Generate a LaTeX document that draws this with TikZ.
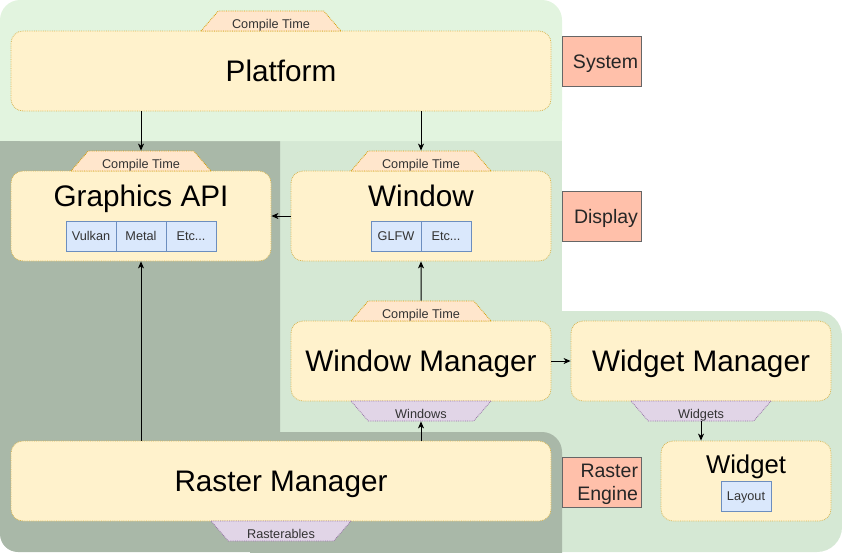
\documentclass[tikz,border=0pt]{standalone}
\usepackage{fontspec}
\setmainfont{Liberation Sans}
\usetikzlibrary{positioning,shapes.geometric,arrows.meta}

\definecolor{sysfill}{HTML}{E2F4DF}
\definecolor{dispfill}{HTML}{D5E8D4}
\definecolor{rastfill}{HTML}{A9B8A8}
\definecolor{boxfill}{HTML}{FFF2CC}
\definecolor{boxline}{HTML}{D6B656}
\definecolor{ctfill}{HTML}{FFE6CC}
\definecolor{ctline}{HTML}{D79B00}
\definecolor{purpfill}{HTML}{E1D5E7}
\definecolor{purpline}{HTML}{9673A6}
\definecolor{libfill}{HTML}{DAE8FC}
\definecolor{libline}{HTML}{6C8EBF}
\definecolor{tagfill}{HTML}{FFC0AA}
\definecolor{tagline}{HTML}{666666}

\newcommand{\fsTitle}{\fontsize{29.7}{35}\selectfont}
\newcommand{\fsWidget}{\fontsize{25.7}{30}\selectfont}
\newcommand{\fsTab}{\fontsize{12.7}{15}\selectfont}
\newcommand{\fsTag}{\fontsize{19.5}{23}\selectfont}

\tikzset{
	component/.style={draw=boxline, fill=boxfill, densely dotted, line width=0.8pt, rounded corners=12pt, inner sep=0pt},
	title/.style={font=\fsTitle, inner sep=0pt, anchor=base},
	lib/.style={draw=libline, fill=libfill, line width=0.8pt, minimum width=50pt, minimum height=30pt, inner sep=0pt, text height=9.3pt, text depth=0pt, font=\fsTab, text=black!80},
	ctab/.style={shape=trapezium, trapezium left angle=39, trapezium right angle=39, trapezium stretches body=true, minimum width=140pt, minimum height=20pt, inner sep=0pt, text height=14pt, text depth=0pt, draw=ctline, fill=ctfill, densely dotted, line width=0.8pt, font=\fsTab, text=black!80},
	otab/.style={ctab, shape border rotate=180, draw=purpline, fill=purpfill},
	layer/.style={draw=tagline, fill=tagfill, line width=0.8pt, minimum width=79pt, minimum height=50pt, inner xsep=3pt, inner ysep=0pt, text width=73pt, align=right, text height=14pt, text depth=0pt, font=\fsTag, text=black!85},
	link/.style={-{Stealth[length=7pt, width=6pt, inset=2pt]}, line width=1pt, black}
}

\begin{document}
\begin{tikzpicture}[x=1pt, y=-1pt]
	\useasboundingbox (0,0) rectangle (842,552);

	% Areas:
	\fill[dispfill] (280,141) rectangle (562,552);
	\fill[dispfill, rounded corners=25pt] (500,311) rectangle (842,552);
	\fill[rastfill, rounded corners=18pt] (0,100) rectangle (280,552);
	\fill[rastfill, rounded corners=20pt] (250,432) rectangle (562,600);
	\fill[sysfill, rounded corners=20pt] (0,0) rectangle (562,141);
	\fill[sysfill] (0,100) rectangle (562,141);

	% Components:
	\node[component, minimum width=540pt, minimum height=80pt] (plat) at (281,71) {};
	\node[component, minimum width=260pt, minimum height=90pt] (gapi) at (141,216) {};
	\node[component, minimum width=260pt, minimum height=90pt] (win) at (421,216) {};
	\node[component, minimum width=260pt, minimum height=80pt] (wmgr) at (421,361) {};
	\node[component, minimum width=260pt, minimum height=80pt] (wdgmgr) at (701,361) {};
	\node[component, minimum width=170pt, minimum height=80pt] (wdg) at (746,481) {};
	\node[component, minimum width=540pt, minimum height=80pt] (rmgr) at (281,481) {};

	% Titles:
	\node[title] (platT) at (281,81.5) {Platform};
	\node[title] (gapiT) at (141,206.5) {Graphics API};
	\node[title] (winT) at (421,206.5) {Window};
	\node[title] (wmgrT) at (421,371.5) {Window Manager};
	\node[title] (wdgmgrT) at (701,371.5) {Widget Manager};
	\node[title] (rmgrT) at (281,491.5) {Raster Manager};
	\node[title, font=\fsWidget] (wdgT) at (746,473) {Widget};

	% Back ends:
	\node[lib] (vulkan) at (91,236) {Vulkan};
	\node[lib] (metal) at (141,236) {Metal};
	\node[lib] (gapiEtc) at (191,236) {Etc...};
	\node[lib] (glfw) at (396,236) {GLFW};
	\node[lib] (winEtc) at (446,236) {Etc...};
	\node[lib] (layout) at (746,496) {Layout};

	% Tabs:
	\node[ctab] (platCT) at (271,21) {Compile Time};
	\node[ctab] (gapiCT) at (141,161) {Compile Time};
	\node[ctab] (winCT) at (421,161) {Compile Time};
	\node[ctab] (wmgrCT) at (421,311) {Compile Time};
	\node[otab] (wmgrOut) at (421,411) {Windows};
	\node[otab] (wdgmgrOut) at (701,411) {Widgets};
	\node[otab] (rmgrOut) at (281,531) {Rasterables};

	% Layers:
	\node[layer] (sys) at (601.5,61) {System};
	\node[layer] (disp) at (601.5,216) {Display};
	\node[layer, text depth=23pt] (rast) at (601.5,482) {Raster\\Engine};

	% Lines:
	\draw[link] (plat.south -| gapiCT.north) -- (gapiCT.north);
	\draw[link] (plat.south -| winCT.north) -- (winCT.north);
	\draw[link] (win.west) -- (gapi.east);
	\draw[link] (wmgrCT.north) -- (win.south);
	\draw[link] (rmgr.north -| gapi.south) -- (gapi.south);
	\draw[link] (rmgr.north -| wmgrOut.center) -- (wmgrOut.top side);
	\draw[link] (wmgr.east) -- (wdgmgr.west);
	\draw[link] (wdgmgrOut.top side) -- (wdgmgrOut.top side |- wdg.north);

\end{tikzpicture}
\end{document}
